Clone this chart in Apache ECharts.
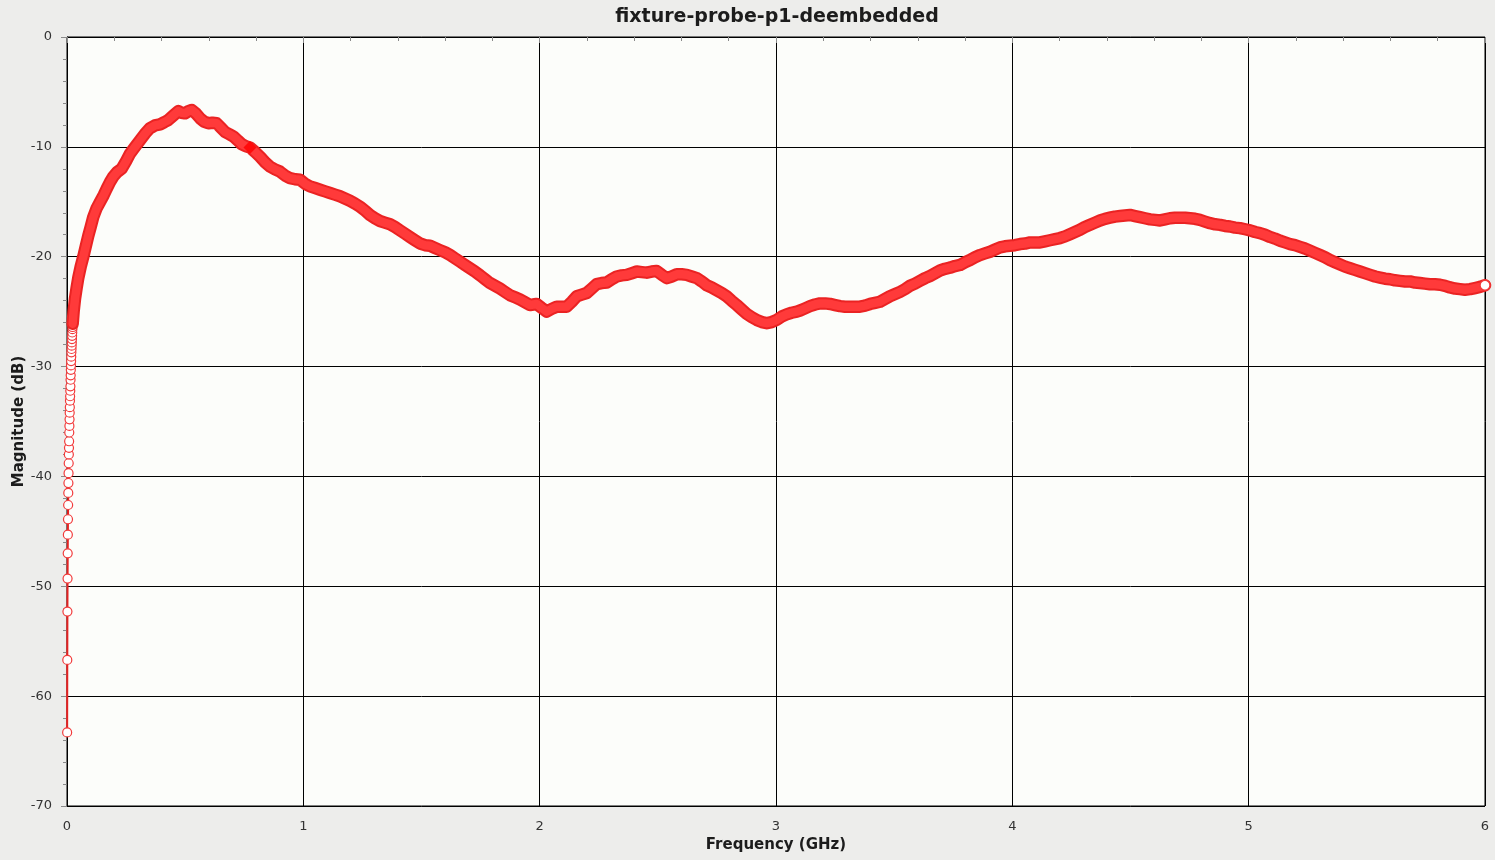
<!DOCTYPE html>
<html>
<head>
<meta charset="utf-8">
<script src="https://cdn.jsdelivr.net/npm/echarts@6/dist/echarts.min.js"></script>
<style>
html,body{margin:0;padding:0;background:#ededeb;}
#chart{width:1495px;height:860px;}
</style>
</head>
<body>
<div id="chart"></div>
<script>
const chartTitle = 'fixture-probe-p1-deembedded';
const xName = 'Frequency (GHz)';
const yName = 'Magnitude (dB)';

// steep low-frequency rise: [GHz, dB]
const lowRise = [
[0.0006,-63.3],[0.0012,-56.7],[0.0018,-52.3],[0.0024,-49.3],[0.0030,-47.0],[0.0036,-45.3],
[0.0042,-43.9],[0.0048,-42.6],[0.0054,-41.5],[0.0060,-40.6],[0.0066,-39.7],[0.0072,-38.8],
[0.0078,-38.0],[0.0084,-37.4],[0.0090,-36.8],[0.0096,-36.0],[0.0102,-35.4],[0.0108,-34.8],
[0.0114,-34.2],[0.0120,-33.7],[0.0126,-33.1],[0.0132,-32.7],[0.0138,-32.2],[0.0144,-31.8],
[0.0150,-31.2],[0.0156,-30.8],[0.0162,-30.3],[0.0168,-29.9],[0.0174,-29.5],[0.0180,-29.1],
[0.0186,-28.7],[0.0192,-28.4],[0.0198,-28.1],[0.0204,-27.8],[0.0210,-27.5],[0.0216,-27.2],
[0.0222,-26.9],[0.0228,-26.6],[0.0234,-26.4],[0.0240,-26.1]
];

// main trace: [GHz, dB]
const mainTrace = [
[0.024,-26.1],[0.028,-25.0],[0.034,-23.8],[0.041,-22.8],[0.048,-21.9],[0.058,-20.9],[0.069,-20.0],
[0.080,-19.0],[0.090,-18.1],[0.100,-17.3],[0.111,-16.4],[0.125,-15.6],[0.140,-15.0],[0.155,-14.4],
[0.168,-13.8],[0.182,-13.2],[0.196,-12.7],[0.212,-12.3],[0.231,-12.0],[0.250,-11.3],[0.267,-10.6],
[0.288,-10.0],[0.309,-9.4],[0.330,-8.8],[0.351,-8.3],[0.372,-8.05],[0.394,-7.95],[0.412,-7.75],
[0.429,-7.55],[0.450,-7.15],[0.471,-6.75],[0.485,-6.9],[0.499,-6.95],[0.514,-6.75],[0.528,-6.65],
[0.545,-6.95],[0.563,-7.4],[0.580,-7.7],[0.598,-7.85],[0.615,-7.8],[0.633,-7.85],[0.651,-8.25],
[0.669,-8.65],[0.687,-8.85],[0.704,-9.05],[0.722,-9.4],[0.739,-9.75],[0.757,-9.95],[0.774,-10.05],
[0.795,-10.45],[0.817,-10.9],[0.838,-11.4],[0.859,-11.8],[0.880,-12.05],[0.901,-12.25],[0.922,-12.6],
[0.944,-12.85],[0.965,-12.95],[0.986,-13.0],[1.007,-13.35],[1.028,-13.6],[1.050,-13.75],[1.071,-13.9],
[1.092,-14.05],[1.113,-14.2],[1.134,-14.35],[1.155,-14.5],[1.176,-14.7],[1.197,-14.9],[1.218,-15.15],
[1.240,-15.45],[1.261,-15.8],[1.282,-16.2],[1.303,-16.5],[1.324,-16.75],[1.345,-16.9],[1.367,-17.05],
[1.388,-17.3],[1.409,-17.6],[1.430,-17.9],[1.451,-18.2],[1.472,-18.5],[1.494,-18.8],[1.515,-18.95],
[1.536,-19.0],[1.557,-19.2],[1.578,-19.4],[1.600,-19.6],[1.621,-19.85],[1.642,-20.15],[1.663,-20.45],
[1.684,-20.75],[1.705,-21.05],[1.726,-21.35],[1.748,-21.7],[1.769,-22.05],[1.790,-22.4],[1.811,-22.65],
[1.832,-22.9],[1.853,-23.2],[1.874,-23.5],[1.896,-23.7],[1.917,-23.9],[1.938,-24.15],[1.959,-24.4],
[1.973,-24.35],[1.987,-24.3],[2.008,-24.65],[2.030,-25.0],[2.051,-24.75],[2.072,-24.55],[2.093,-24.55],
[2.114,-24.55],[2.136,-24.1],[2.157,-23.6],[2.178,-23.45],[2.199,-23.3],[2.220,-22.9],[2.241,-22.5],
[2.262,-22.4],[2.284,-22.35],[2.305,-22.05],[2.326,-21.8],[2.347,-21.7],[2.368,-21.65],[2.390,-21.5],
[2.411,-21.35],[2.432,-21.4],[2.453,-21.45],[2.474,-21.35],[2.495,-21.3],[2.517,-21.65],[2.538,-21.95],
[2.559,-21.8],[2.580,-21.6],[2.601,-21.6],[2.622,-21.65],[2.643,-21.8],[2.665,-21.95],[2.686,-22.25],
[2.707,-22.6],[2.728,-22.8],[2.749,-23.05],[2.770,-23.3],[2.791,-23.6],[2.812,-24.0],[2.834,-24.4],
[2.855,-24.8],[2.876,-25.2],[2.897,-25.5],[2.918,-25.75],[2.940,-25.95],[2.961,-26.05],[2.982,-25.95],
[3.003,-25.75],[3.024,-25.45],[3.045,-25.25],[3.066,-25.1],[3.088,-25.0],[3.102,-24.9],[3.123,-24.7],
[3.144,-24.5],[3.165,-24.35],[3.186,-24.25],[3.208,-24.25],[3.229,-24.3],[3.250,-24.4],[3.271,-24.5],
[3.292,-24.55],[3.313,-24.55],[3.334,-24.55],[3.355,-24.55],[3.377,-24.45],[3.398,-24.3],[3.419,-24.2],
[3.440,-24.1],[3.461,-23.85],[3.482,-23.6],[3.504,-23.4],[3.525,-23.2],[3.546,-22.95],[3.567,-22.65],
[3.588,-22.45],[3.609,-22.2],[3.631,-21.95],[3.652,-21.75],[3.673,-21.5],[3.694,-21.25],[3.715,-21.1],
[3.736,-21.0],[3.757,-20.85],[3.779,-20.75],[3.800,-20.5],[3.821,-20.3],[3.842,-20.05],[3.863,-19.85],
[3.884,-19.7],[3.906,-19.55],[3.927,-19.35],[3.948,-19.15],[3.969,-19.05],[3.990,-19.0],[4.011,-18.95],
[4.033,-18.85],[4.054,-18.8],[4.075,-18.7],[4.096,-18.7],[4.117,-18.7],[4.138,-18.6],[4.159,-18.5],
[4.181,-18.4],[4.202,-18.3],[4.223,-18.15],[4.244,-17.95],[4.265,-17.75],[4.286,-17.55],[4.307,-17.3],
[4.329,-17.1],[4.350,-16.9],[4.371,-16.7],[4.392,-16.55],[4.413,-16.45],[4.434,-16.35],[4.456,-16.3],
[4.477,-16.25],[4.498,-16.2],[4.519,-16.3],[4.540,-16.4],[4.561,-16.5],[4.583,-16.6],[4.604,-16.65],
[4.625,-16.7],[4.646,-16.6],[4.667,-16.5],[4.688,-16.45],[4.710,-16.45],[4.731,-16.45],[4.752,-16.5],
[4.773,-16.55],[4.794,-16.65],[4.815,-16.8],[4.837,-16.95],[4.858,-17.05],[4.879,-17.1],[4.900,-17.2],
[4.921,-17.25],[4.942,-17.35],[4.963,-17.4],[4.985,-17.5],[5.006,-17.6],[5.027,-17.75],[5.048,-17.85],
[5.069,-18.0],[5.090,-18.2],[5.111,-18.35],[5.133,-18.55],[5.154,-18.7],[5.175,-18.85],[5.196,-18.95],
[5.217,-19.1],[5.238,-19.25],[5.260,-19.45],[5.281,-19.65],[5.302,-19.85],[5.323,-20.05],[5.344,-20.3],
[5.365,-20.5],[5.387,-20.7],[5.408,-20.9],[5.429,-21.05],[5.450,-21.2],[5.471,-21.35],[5.492,-21.5],
[5.514,-21.65],[5.535,-21.8],[5.556,-21.9],[5.577,-22.0],[5.598,-22.05],[5.619,-22.15],[5.640,-22.2],
[5.662,-22.25],[5.683,-22.25],[5.704,-22.35],[5.725,-22.4],[5.746,-22.45],[5.767,-22.5],[5.788,-22.5],
[5.810,-22.55],[5.831,-22.65],[5.852,-22.8],[5.873,-22.9],[5.894,-22.95],[5.915,-23.0],[5.937,-22.95],
[5.958,-22.85],[5.979,-22.75],[6.000,-22.6]
];

// highlighted (selected) point
const selectedPoint = [[0.774,-10.05]];

const FONT = 'DejaVu Sans';
const chart = echarts.init(document.getElementById('chart'), null, {renderer:'canvas'});

const lastIdx = mainTrace.length - 1;
const mainData = mainTrace.map((p, i) => i === lastIdx
  ? {value: p, symbol: 'circle', symbolSize: 10}
  : {value: p, symbol: 'none'});

chart.setOption({
  backgroundColor: '#ededeb',
  animation: false,
  title: {
    text: chartTitle,
    left: 777,
    top: 8,
    textAlign: 'center',
    padding: 0,
    textStyle: {fontFamily: FONT, fontSize: 19, fontWeight: 'bold', color: '#1c1c1c'}
  },
  grid: {
    left: 67, right: 10, top: 37, bottom: 54,
    outerBoundsMode: 'none',
    show: true, backgroundColor: '#fcfdfa', borderColor: '#000', borderWidth: 1,
    containLabel: false
  },
  xAxis: {
    type: 'value', min: 0, max: 6, interval: 1,
    name: xName, nameLocation: 'middle', nameGap: 32, nameMoveOverlap: false,
    nameTextStyle: {fontFamily: FONT, fontSize: 15, fontWeight: 'bold', color: '#1c1c1c'},
    axisLine: {show: true, lineStyle: {color: '#000', width: 1}},
    axisTick: {show: true, inside: false, length: 6, lineStyle: {color: '#8a8a8a'}},
    minorTick: {show: true, splitNumber: 5, length: 4, lineStyle: {color: '#8a8a8a'}},
    axisLabel: {fontFamily: FONT, fontSize: 13, color: '#333', margin: 14},
    splitLine: {show: true, lineStyle: {color: '#000', width: 1}}
  },
  yAxis: {
    type: 'value', min: -70, max: 0, interval: 10,
    name: yName, nameLocation: 'middle', nameGap: 40, nameRotate: 90, nameMoveOverlap: false,
    nameTextStyle: {fontFamily: FONT, fontSize: 15, fontWeight: 'bold', color: '#1c1c1c'},
    axisLine: {show: true, lineStyle: {color: '#000', width: 1}},
    axisTick: {show: true, inside: false, length: 6, lineStyle: {color: '#8a8a8a'}},
    minorTick: {show: true, splitNumber: 5, length: 4, lineStyle: {color: '#8a8a8a'}},
    axisLabel: {fontFamily: FONT, fontSize: 13, color: '#333', margin: 15},
    splitLine: {show: true, lineStyle: {color: '#000', width: 1}}
  },
  series: [
    {
      name: 'rise', type: 'line', data: lowRise, z: 3,
      symbol: 'circle', symbolSize: 9, showSymbol: true, showAllSymbol: true,
      lineStyle: {color: '#e52222', width: 2},
      itemStyle: {color: '#ffffff', borderColor: '#f23a3a', borderWidth: 1.2}
    },
    {
      name: 'trace-edge', type: 'line', data: mainTrace, z: 4,
      showSymbol: false, symbol: 'none',
      lineStyle: {color: '#ea2323', width: 12.5, cap: 'round', join: 'round'}
    },
    {
      name: 'trace', type: 'line', data: mainData, z: 4,
      showSymbol: true, showAllSymbol: true,
      lineStyle: {color: '#ff3a3a', width: 8.5, cap: 'round', join: 'round'},
      itemStyle: {color: '#ffffff', borderColor: '#f23a3a', borderWidth: 1.5}
    },
    {
      name: 'selected', type: 'scatter', data: selectedPoint, z: 5,
      symbol: 'diamond', symbolSize: 13,
      itemStyle: {color: '#ff0000'}
    }
  ]
});
</script>
</body>
</html>
